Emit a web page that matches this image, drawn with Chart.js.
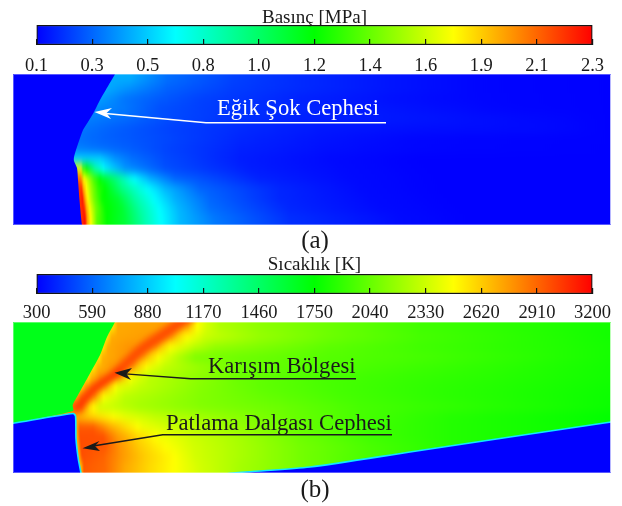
<!DOCTYPE html>
<html><head><meta charset="utf-8">
<style>
html,body{margin:0;padding:0;background:#fff;width:622px;height:506px;overflow:hidden}
canvas{position:absolute;display:block}
</style>
<script src="https://cdn.jsdelivr.net/npm/chart.js@4"></script>
</head><body>
<svg width="0" height="0" style="position:absolute"><filter id="vb" x="-5%" y="-20%" width="110%" height="140%" color-interpolation-filters="sRGB"><feGaussianBlur stdDeviation="0.7 4.5"/></filter></svg>
<canvas id="fieldA" width="618" height="170" style="left:3px;top:64px;filter:url(#vb);clip-path:inset(10px 10px 9px 10px)"></canvas>
<canvas id="fieldB" width="618" height="170" style="left:3px;top:312px;filter:url(#vb);clip-path:inset(10px 10px 9px 10px)"></canvas>
<canvas id="streak" width="622" height="506" style="left:0;top:0;filter:blur(3px);clip-path:path('M13 322H611V473H13Z')"></canvas>
<canvas id="shapes" width="622" height="506" style="left:0;top:0;filter:blur(.6px);clip-path:path('M13 74H611V225H13Z M13 322H611V473H13Z')"></canvas>
<canvas id="barA" width="622" height="74" style="left:0;top:0"></canvas>
<canvas id="barB" width="622" height="74" style="left:0;top:249px"></canvas>
<canvas id="notes" width="622" height="506" style="left:0;top:0"></canvas>
<script>
const pressureTitle = 'Basınç [MPa]';
const pressureTicks = [0.1,0.32,0.54,0.76,0.98,1.2,1.42,1.64,1.86,2.08,2.3];
const pressureTickLabels = ['0.1','0.3','0.5','0.8','1.0','1.2','1.4','1.6','1.9','2.1','2.3'];
const temperatureTitle = 'Sıcaklık [K]';
const temperatureTicks = [300,590,880,1170,1460,1750,2040,2330,2620,2910,3200];
const temperatureTickLabels = ['300','590','880','1170','1460','1750','2040','2330','2620','2910','3200'];

// Field rows, top to bottom: each row lists [position along duct, value]
const pressureRows = [
 [[112,.47],[130,.47],[167,.34],[233,.24],[300,.19],[400,.14],[480,.11],[611,.1]],
 [[106,.47],[125,.42],[167,.31],[233,.23],[300,.19],[400,.14],[480,.11],[611,.1]],
 [[100,.44],[125,.35],[155,.3],[200,.24],[300,.17],[400,.13],[480,.11],[611,.1]],
 [[95,.4],[125,.36],[160,.27],[220,.22],[300,.18],[400,.14],[500,.11],[611,.1]],
 [[90,.37],[125,.33],[170,.26],[230,.21],[300,.17],[400,.15],[520,.12],[611,.1]],
 [[84,.35],[110,.31],[170,.24],[240,.19],[320,.15],[420,.13],[540,.12],[611,.1]],
 [[80,.34],[105,.31],[170,.25],[240,.18],[320,.14],[420,.11],[611,.1]],
 [[76,.38],[100,.34],[130,.3],[170,.24],[240,.17],[330,.13],[420,.11],[611,.1]],
 [[75,.55],[100,.55],[115,.42],[132,.34],[165,.26],[240,.16],[330,.12],[420,.1],[611,.1]],
 [[77.5,1.7],[81,1.7],[83,1.35],[88,1.15],[95,.85],[105,.62],[125,.42],[165,.27],[250,.16],[340,.12],[430,.1],[611,.1]],
 [[78,2.1],[80.5,2.05],[83.5,1.8],[88,1.6],[94,1.35],[102,1.15],[115,.95],[130,.7],[150,.48],[175,.32],[260,.17],[350,.12],[440,.1],[611,.1]],
 [[79,2.2],[81.5,2.2],[83.5,1.95],[87,1.72],[92,1.5],[98,1.3],[108,1.15],[122,.92],[140,.72],[165,.5],[200,.32],[280,.18],[360,.12],[440,.1],[611,.1]],
 [[80,2.2],[82.5,2.25],[85,1.95],[89,1.68],[94,1.45],[102,1.22],[118,1.1],[135,.85],[155,.64],[175,.48],[210,.32],[280,.18],[370,.12],[450,.1],[611,.1]],
 [[81,2.2],[84,2.25],[86.5,1.95],[91,1.68],[96,1.45],[105,1.22],[122,1.1],[140,.85],[158,.66],[178,.5],[210,.34],[290,.18],[380,.12],[460,.1],[611,.1]],
 [[82,2.2],[85,2.28],[87.5,1.95],[92,1.68],[97,1.4],[107,1.2],[125,1.08],[145,.82],[160,.66],[180,.5],[215,.36],[290,.2],[400,.12],[470,.1],[611,.1]]
];
const temperatureRows = [
 [[113,2550],[118,2720],[160,2740],[188,2700],[197,2480],[207,2350],[220,2250],[260,2150],[330,2050],[420,1930],[611,1800]],
 [[107.5,2550],[112,2720],[150,2760],[172,2720],[185,2500],[205,2330],[260,2180],[330,2060],[420,1950],[611,1800]],
 [[103.5,2550],[108,2720],[128,2780],[156,2720],[170,2480],[195,2280],[215,2170],[330,2010],[420,1930],[611,1810]],
 [[99.5,2550],[103,2700],[120,2760],[145,2700],[160,2450],[178,2250],[195,2100],[240,2060],[330,1990],[420,1950],[611,1810]],
 [[94,2550],[98,2680],[110,2760],[134,2700],[148,2450],[165,2300],[200,2180],[240,2060],[320,1990],[420,1920],[611,1800]],
 [[88.5,2550],[92,2680],[100,2780],[120,2700],[133,2430],[150,2280],[200,2150],[240,2050],[320,1960],[420,1900],[611,1800]],
 [[82,2600],[86,2750],[92,2800],[106,2700],[118,2420],[140,2300],[200,2130],[260,2020],[330,1950],[430,1880],[611,1790]],
 [[77,2700],[82,2850],[95,2750],[105,2450],[125,2280],[200,2120],[270,2030],[340,1950],[430,1880],[611,1780]],
 [[73,2900],[82,2850],[90,2550],[100,2350],[140,2220],[200,2120],[280,2050],[360,1950],[611,1780]],
 [[76,2700],[100,2550],[127,2400],[155,2300],[220,2170],[290,2050],[360,1950],[450,1850],[611,1750]],
 [[76,2700],[80,2950],[93,2950],[110,2720],[127,2560],[143,2430],[170,2330],[225,2200],[300,2040],[370,1930],[450,1850],[611,1760]],
 [[77,2700],[80,2980],[103,2980],[117,2780],[137,2600],[160,2450],[193,2330],[240,2220],[300,2060],[370,1930],[450,1850],[611,1750]],
 [[78,2700],[81,2980],[105,2950],[120,2780],[140,2620],[165,2480],[193,2350],[240,2230],[300,2080],[370,1960],[450,1850],[611,1750]],
 [[79,2700],[82,2980],[103,2920],[122,2770],[145,2620],[170,2500],[195,2350],[240,2230],[300,2080],[370,1950],[450,1850],[611,1750]],
 [[81,2650],[84,2950],[105,2900],[125,2720],[150,2580],[175,2470],[200,2350],[240,2220],[300,2080],[370,1950],[450,1850],[611,1750]]
];
// Hot core of the mixing layer, in picture units
const mixingCoreLower = [[77,408],[94,389],[118,372]];
const mixingCoreUpper = [[118,372],[141,350],[164,334],[191,315]];

// Regions ahead of the fronts, in picture units, each with its field value
const pressureUpstream = [[5,50],[125,50],[115,74],[107.5,87],[100,100],[94,112],[88,122],[83,130],[79,141],[76,150],[74,157],[74,161],[77,168],[78,180],[79.5,200],[82,225],[85,240],[5,240]];
const pressureUpstreamValue = 0.1;
const airUpstream = [[5,300],[125,300],[115,322],[107,337],[100,355],[88,377],[78,395],[72.7,405],[73,411],[13,423.3],[-10,427]];
const airUpstreamValue = 1680;
const fuelUpstream = [[-10,426.7],[13,423.3],[73,413.5],[75.5,416],[76,439],[78.3,459],[81,473],[85,495],[-10,495]];
const fuelWedge = [[180,480],[233,473],[310,467],[410,452],[510,437],[611,422],[640,417],[640,495],[180,495]];
const panelFrameA = [[13.5,74.5],[610.5,74.5],[610.5,224.5],[13.5,224.5],[13.5,74.5]];
const panelFrameB = [[13.5,322.5],[610.5,322.5],[610.5,472.5],[13.5,472.5],[13.5,322.5]];

const shockLeader = [[100,113],[206,122.7],[386,122.7]];
const shockHead = [[94.5,112],[112,108],[106.5,113],[111,119]];
const mixingLeader = [[122,373.6],[190.7,378.8],[356,378.8]];
const mixingHead = [[114.5,372.7],[132,368],[126.5,374],[131,380]];
const detonationLeader = [[90,446.5],[162.7,434.7],[392,434.7]];
const detonationHead = [[82.5,448.3],[99.5,441],[95,446],[100,451]];
const notesText = [
 {text:'Eğik Şok Cephesi', x:217, y:115, size:22.6, color:'#ffffff', align:'left'},
 {text:'Karışım Bölgesi', x:208, y:372.5, size:22.6, color:'#1a1a1a', align:'left'},
 {text:'Patlama Dalgası Cephesi', x:166, y:429.5, size:22.6, color:'#1a1a1a', align:'left'},
 {text:'(a)', x:315, y:248, size:25, color:'#1a1a1a', align:'center'},
 {text:'(b)', x:315, y:497, size:25, color:'#1a1a1a', align:'center'}
];

const SERIF = '"Liberation Serif","Times New Roman",serif';
function ramp(t){
  t=Math.max(0,Math.min(1,t))*4;
  let r,g,b;
  if(t<1){r=0;g=t;b=1}
  else if(t<2){r=0;g=1;b=2-t}
  else if(t<3){r=t-2;g=1;b=0}
  else{r=1;g=4-t;b=0}
  return `rgb(${Math.round(r*255)},${Math.round(g*255)},${Math.round(b*255)})`;
}
const base = {responsive:false,animation:false,devicePixelRatio:1,events:[],
  plugins:{legend:{display:false},tooltip:{enabled:false},title:{display:false}}};

function fieldChart(id,rows,vmin,vmax){
  const all=[rows[0],...rows,rows[rows.length-1]];
  const x0=3,x1=621;
  new Chart(document.getElementById(id),{type:'bar',
    data:{labels:all.map((_,i)=>'row'+i),datasets:[{
      data:all.map(()=>[x0,x1]),barPercentage:1,categoryPercentage:1,borderWidth:0,
      backgroundColor(c){
        const chart=c.chart,s=chart.scales.x;
        if(!s||c.dataIndex===undefined)return '#00f';
        const a=s.getPixelForValue(x0),b=s.getPixelForValue(x1);
        if(!isFinite(a)||!isFinite(b))return '#00f';
        const g=chart.ctx.createLinearGradient(a,0,b,0);
        const r=all[c.dataIndex];
        for(let i=0;i<r.length;i++){
          const n=i<r.length-1?8:1;
          for(let k=0;k<n;k++){
            const f=k/n;
            const x=i<r.length-1?r[i][0]+(r[i+1][0]-r[i][0])*f:r[i][0];
            const v=i<r.length-1?r[i][1]+(r[i+1][1]-r[i][1])*f:r[i][1];
            g.addColorStop((x-x0)/(x1-x0),ramp((v-vmin)/(vmax-vmin)));
          }
        }
        return g;
      }}]},
    options:{...base,indexAxis:'y',layout:{padding:0},
      scales:{x:{type:'linear',min:x0,max:x1,display:false},y:{type:'category',display:false}}}
  });
}
fieldChart('fieldA',pressureRows,0.1,2.3);
fieldChart('fieldB',temperatureRows,300,3200);

const pageScales={x:{type:'linear',min:0,max:622,display:false},y:{type:'linear',min:0,max:506,reverse:true,display:false}};
function core(points,color,width){
  return {data:points.map(p=>({x:p[0],y:p[1]})),showLine:true,pointRadius:0,fill:false,tension:0.3,
    borderColor:color,borderWidth:width,borderCapStyle:'round'};
}
new Chart(document.getElementById('streak'),{type:'scatter',
  data:{datasets:[core(mixingCoreLower,'rgb(255,50,0)',8),core(mixingCoreUpper,'rgb(255,75,0)',11)]},
  options:{...base,layout:{padding:0},scales:pageScales}
});

function poly(points,fillColor,line){
  return {data:points.map(p=>({x:p[0],y:p[1]})),showLine:true,fill:'shape',pointRadius:0,tension:0.25,
    backgroundColor:fillColor,borderColor:line||fillColor,borderWidth:line?1.6:0};
}
new Chart(document.getElementById('shapes'),{type:'scatter',
  data:{datasets:[
    poly(fuelWedge,ramp(0),'#10e8ff'),
    poly(fuelUpstream,ramp(0),'#10e8ff'),
    poly(airUpstream,ramp((airUpstreamValue-300)/2900)),
    poly(pressureUpstream,ramp((pressureUpstreamValue-0.1)/2.2))
  ]},
  options:{...base,layout:{padding:0},scales:pageScales}
});

function colorBar(id,title,ticks,labels,titleCenter,labelPad){
  const lo=ticks[0],hi=ticks[ticks.length-1];
  new Chart(document.getElementById(id),{type:'bar',
    data:{labels:['bar'],datasets:[{data:[[lo,hi]],barPercentage:1,categoryPercentage:1,
      borderWidth:1.5,borderColor:'#151515',borderSkipped:false,
      backgroundColor(c){
        const s=c.chart.scales.x; if(!s||!isFinite(s.left)||!isFinite(s.right))return '#00f';
        const g=c.chart.ctx.createLinearGradient(s.left,0,s.right,0);
        for(let i=0;i<=4;i++)g.addColorStop(i/4,ramp(i/4));
        return g;
      }}]},
    options:{...base,indexAxis:'y',layout:{padding:{left:36.5,right:29.5,top:0,bottom:0}},
      plugins:{...base.plugins,title:{display:true,text:title,color:'#1a1a1a',fullSize:false,
        font:{family:SERIF,size:19,weight:'normal',lineHeight:0.7},padding:{top:titleCenter-6.65,bottom:25-13.3-(titleCenter-6.65)}}},
      scales:{
        y:{type:'category',display:false},
        x:{type:'linear',min:lo,max:hi,position:'bottom',
          afterBuildTicks(s){s.ticks=ticks.map(v=>({value:v}))},
          afterFit(s){s.height=29;s.paddingLeft=0;s.paddingRight=0},
          grid:{display:true,drawOnChartArea:false,drawTicks:true,tickLength:-6,z:1,color:'#151515',lineWidth:1.2},
          border:{display:false},
          ticks:{color:'#1a1a1a',maxRotation:0,autoSkip:false,padding:labelPad,
            font:{family:SERIF,size:18.5,weight:'normal'},
            callback(v,i){return labels[i]}}
        }}}
  });
}
colorBar('barA',pressureTitle,pressureTicks,pressureTickLabels,18,16);
colorBar('barB',temperatureTitle,temperatureTicks,temperatureTickLabels,16.5,14);

function leader(points,color){return {data:points.map(p=>({x:p[0],y:p[1]})),showLine:true,pointRadius:0,borderColor:color,borderWidth:1.4,tension:0,fill:false}}
function head(points,color){return {data:points.map(p=>({x:p[0],y:p[1]})),showLine:true,pointRadius:0,borderWidth:0,tension:0,fill:'shape',backgroundColor:color}}
function frame(points){return {data:points.map(p=>({x:p[0],y:p[1]})),showLine:true,pointRadius:0,borderColor:'rgba(255,255,255,.35)',borderWidth:1,tension:0,fill:false}}
const noteLabels={id:'noteLabels',afterDatasetsDraw(chart){
  const c=chart.ctx;c.save();
  c.textBaseline='alphabetic';
  for(const n of notesText){
    c.font=`${n.size}px ${SERIF}`;c.fillStyle=n.color;c.textAlign=n.align;
    c.fillText(n.text,chart.scales.x.getPixelForValue(n.x),chart.scales.y.getPixelForValue(n.y));
  }
  c.restore();
}};
new Chart(document.getElementById('notes'),{type:'scatter',plugins:[noteLabels],
  data:{datasets:[
    leader(shockLeader,'#fff'),head(shockHead,'#fff'),
    leader(mixingLeader,'#1a1a1a'),head(mixingHead,'#1a1a1a'),
    leader(detonationLeader,'#1a1a1a'),head(detonationHead,'#1a1a1a'),
    frame(panelFrameA),frame(panelFrameB)
  ]},
  options:{...base,layout:{padding:0},scales:pageScales}
});
</script>
</body></html>
